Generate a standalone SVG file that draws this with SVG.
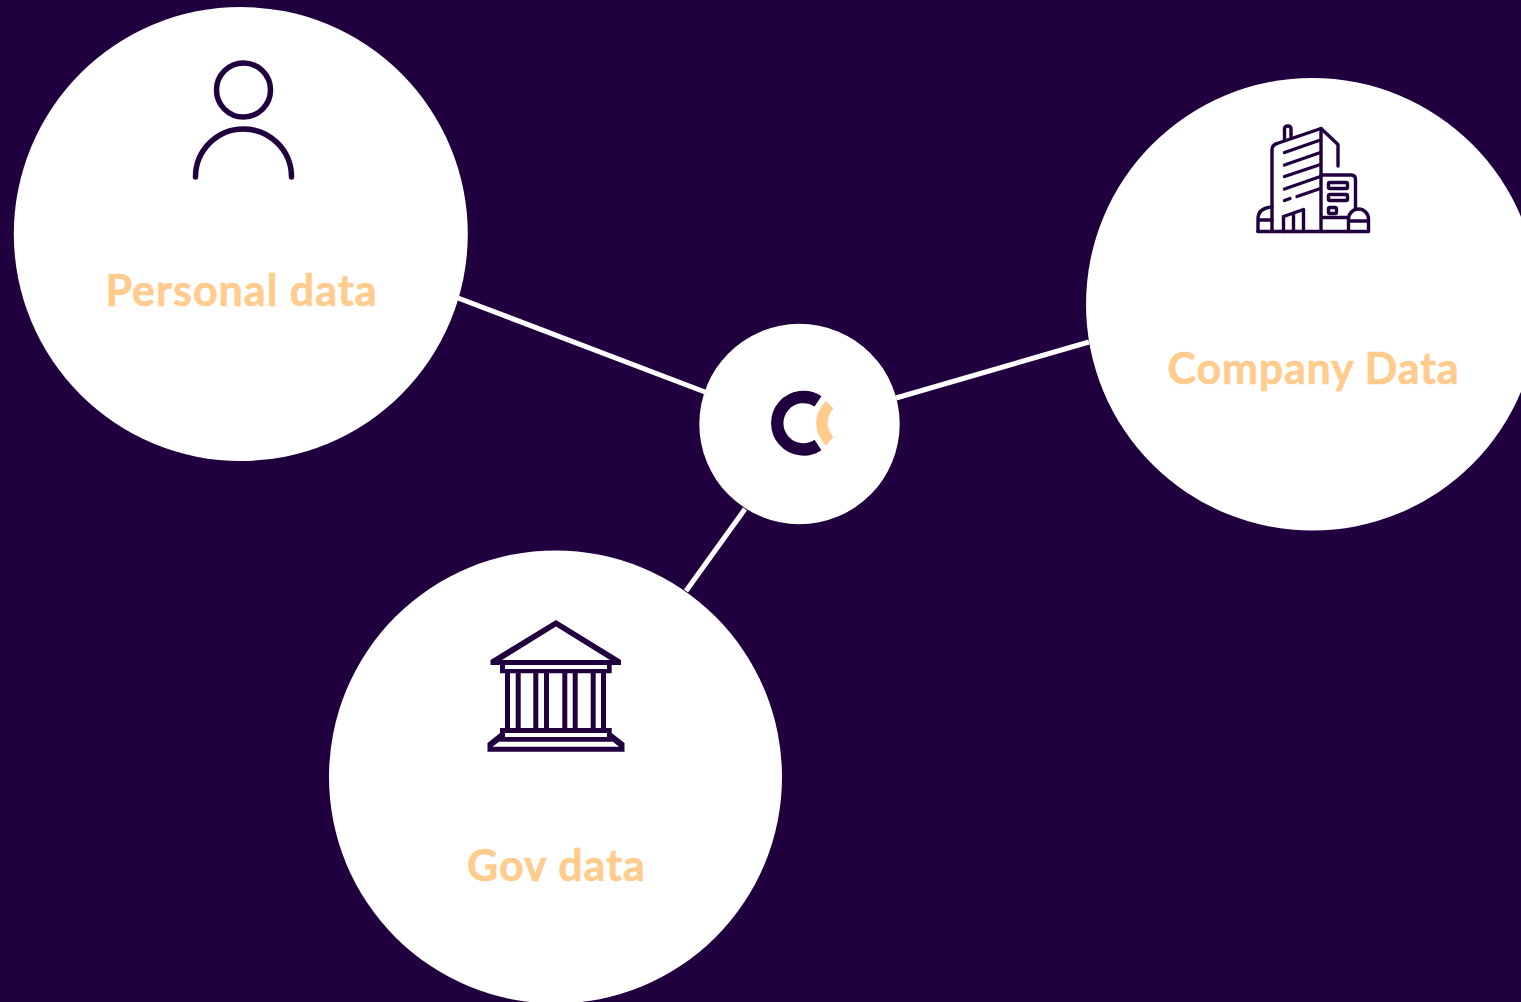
<svg xmlns="http://www.w3.org/2000/svg" width="1521" height="1002" viewBox="0 0 1521 1002">
<style>
.disc{fill:#fff}
.lab{font-family:"Lato","Carlito","Open Sans",sans-serif;font-weight:700;font-size:43px;fill:#ffcc8e;stroke:#ffcc8e;stroke-width:.6;text-anchor:middle;letter-spacing:1px}
.ico{fill:none;stroke:#21003f;stroke-linecap:round;stroke-linejoin:round}
.dark{fill:#21003f}
.conn{stroke:#fff;stroke-width:5;fill:none}
</style>
<rect width="1521" height="1002" fill="#21003f"/>
<g id="connectors">
<line class="conn" x1="458" y1="298" x2="705" y2="392"/>
<line class="conn" x1="896" y1="398" x2="1089" y2="342"/>
<line class="conn" x1="745" y1="509" x2="686" y2="591"/>
</g>
<g id="personal">
<circle class="disc" cx="240.800" cy="234" r="227"/>
<circle class="ico" stroke-width="5.500" cx="243.500" cy="90" r="27"/>
<path class="ico" stroke-width="5.500" d="M195.500 177A48 48 0 0 1 291.500 177"/>
<text class="lab" x="241.500" y="306">Personal data</text>
</g>
<g id="company">
<circle class="disc" cx="1312.300" cy="304.300" r="226.300"/>
<g class="ico" stroke-width="3.400">
<path d="M1272 231.500V150Q1272 145 1277 143.500L1321 128.500L1338 144.500V166"/>
<path d="M1321 128.500V231.500"/>
<path d="M1284.500 140V129Q1284.500 126 1288 126Q1291 126 1291 129V137"/>
<path d="M1284.500 152.500L1319 140.500M1284.500 165L1319 153M1284.500 176.500L1319 165M1284.500 189L1319 177M1284.500 200.500L1290 198.500M1297 196.500L1319 189"/>
<path d="M1321 175H1351Q1355.500 175 1355.500 179.500V209"/>
<rect x="1328.500" y="182.500" width="19" height="6" rx="1.500"/>
<rect x="1328.500" y="194.500" width="19" height="6" rx="1.500"/>
<rect x="1328.500" y="207.500" width="8" height="6" rx="1.500"/>
<path d="M1322 217.500H1348"/>
<path d="M1258 231.500H1368"/>
<path d="M1258 231.500V219Q1258 208 1272 207M1258 220H1272"/>
<path d="M1348.500 231.500V219A10 10 0 0 1 1368.500 219V231.500M1348.500 221H1368.500"/>
<path d="M1283.500 231.500V216.500L1303.500 209.500V231.500M1293.500 213V231.500"/>
</g>
<text class="lab" x="1313.500" y="383.500" style="letter-spacing:.8px">Company Data</text>
</g>
<g id="gov">
<circle class="disc" cx="555.500" cy="777" r="226.500"/>
<path class="dark" fill-rule="evenodd" d="M556 620L621 660V665H611.700V673.300H500V665H490.500V660ZM556 626.500L502 660H610Z"/>
<rect x="505" y="665" width="102" height="4" class="disc"/>
<path class="dark" d="M505 673h5v55h-5zM515.700 673h5v55h-5zM533.300 673h5v55h-5zM544 673h5v55h-5zM562.300 673h5v55h-5zM572.700 673h5v55h-5zM590.700 673h5v55h-5zM601 673h5v55h-5z"/>
<path class="dark" fill-rule="evenodd" d="M500 728H611.700V733L624.500 743V751.700H487.500V743L500 733ZM505 733V737H607V733ZM499 741.700L492.500 746.700H619L613 741.700Z"/>
<text class="lab" x="556.500" y="880.500">Gov data</text>
</g>
<g id="hub">
<circle class="disc" cx="799.500" cy="424" r="100.200"/>
<path d="M818 401.400A26.200 26.200 0 1 0 818 445" fill="none" stroke="#21003f" stroke-width="12.400"/>
<path d="M825.700 400.700L833.300 408.300Q822 423 833.300 437.300L825.700 445.700Q806.500 423 825.700 400.700Z" fill="#ffcc8e"/>
</g>
</svg>
